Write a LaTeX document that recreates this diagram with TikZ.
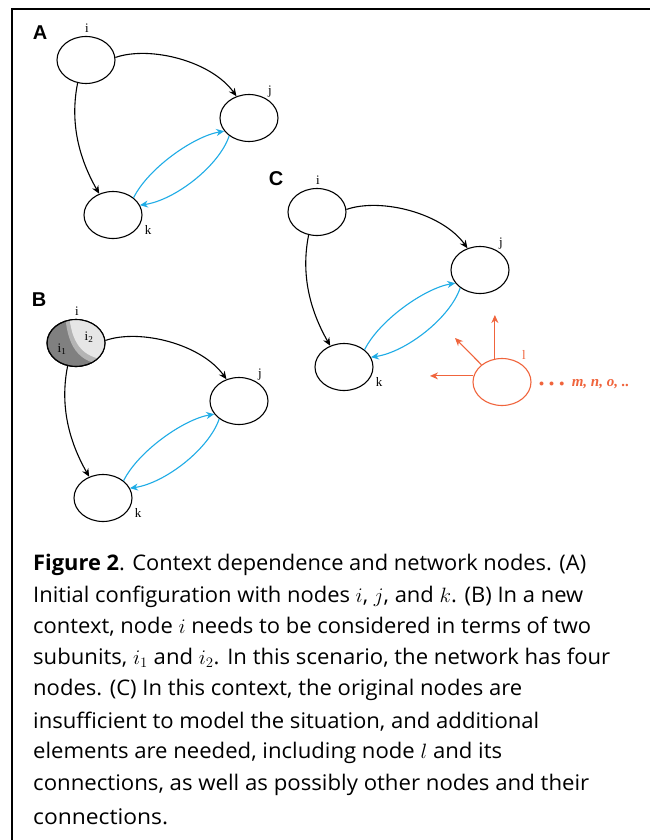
\documentclass[tikz,border=0pt]{standalone}
\usepackage{fontspec}
\setmainfont{Liberation Serif}
\newfontfamily\capfont{Open Sans}
\newfontfamily\labfont{Liberation Sans}
\usetikzlibrary{shapes.geometric,arrows.meta}
\definecolor{cblue}{RGB}{30,172,230}
\definecolor{corange}{RGB}{240,100,60}
\definecolor{dgray}{RGB}{128,128,128}
\definecolor{mgray}{RGB}{180,180,180}
\definecolor{lgray}{RGB}{230,230,230}
\tikzset{
  nd/.style={draw, ellipse, line width=1.1pt, minimum width=58pt, minimum height=47pt, inner sep=0pt},
  lab/.style={font=\fontsize{13}{13}\selectfont, inner sep=0pt},
  panel/.style={font=\labfont\bfseries\fontsize{20}{20}\selectfont, inner sep=0pt},
  blk/.style={line width=1.1pt, -{Stealth[length=8pt,width=7pt]}},
  blu/.style={line width=1.1pt, cblue, -{Stealth[length=8pt,width=7pt]}},
  org/.style={line width=1.1pt, corange, -{Stealth[length=8pt,width=7pt]}},
  capline/.style={anchor=west, inner sep=0pt, font=\capfont\fontsize{21.5}{21.5}\selectfont}
}
\newcommand\fitw[2]{\resizebox{#1pt}{\height}{#2}}
\newcommand\sdot{\scalebox{0.7}{$\bullet$}}
\newcommand\triad[2]{%
  \node[nd,#2] (#1i) at (86,60) {};
  \node[nd] (#1j) at (249,118) {};
  \node[nd] (#1k) at (113,215) {};
  \node[lab] (#1li) at (87,28) {i};
  \node[lab] (#1lj) at (270,92) {j};
  \node[lab] (#1lk) at (148,230) {k};
  \draw[blk] (#1i.5) .. controls +(35,-12) and +(-25,-35) .. (#1j.120);
  \draw[blk] (#1i.-110) .. controls +(-8,40) and +(-20,-35) .. (#1k.123);
  \draw[blu] (#1k.40) .. controls +(15,-30) and +(-30,5) .. (#1j.208);
  \draw[blu] (#1j.222) .. controls +(-10,30) and +(35,-5) .. (#1k.20);
}
\begin{document}
\begin{tikzpicture}[x=1pt,y=-1pt]
\useasboundingbox (0,0) rectangle (650,840);
\fill[white] (0,0) rectangle (650,840);
% frame
\draw[line width=1.6pt] (12,842) -- (12,9) -- (652,9);
% panel A
\node[panel] (pA) at (40,33) {A};
\begin{scope}
\triad{a}{}
\end{scope}
% panel B
\node[panel] (pB) at (39,300) {B};
\begin{scope}[shift={(-10,283)}]
\triad{b}{fill=dgray}
\begin{scope}
\clip (86,60) ellipse [x radius=28.5, y radius=23];
\fill[mgray] (75,30) .. controls (77,60) and (86,82) .. (120,82) -- (120,30) -- cycle;
\fill[lgray] (79,30) .. controls (81,57) and (90,76) .. (120,77) -- (120,30) -- cycle;
\end{scope}
\draw[line width=1.1pt] (86,60) ellipse [x radius=29, y radius=23.5];
\node[lab] (bi1) at (72,66) {i\textsubscript{1}};
\node[lab] (bi2) at (99,54) {i\textsubscript{2}};
\end{scope}
% panel C
\node[panel] (pC) at (276,179) {C};
\begin{scope}[shift={(231,152)}]
\triad{c}{}
\end{scope}
\node[nd, draw=corange] (cl) at (502,382) {};
\node[lab, text=corange] (cll) at (524,355) {l};
\coordinate (e1) at (495,315);
\coordinate (e2) at (455,338);
\coordinate (e3) at (430,376);
\draw[org] (cl.107) -- (cl.107 |- e1);
\draw[org] (cl.140) -- (e2);
\draw[org] (cl.168) -- (e3 |- cl.168);
\node[anchor=west, inner sep=0pt, text=corange, font=\bfseries\itshape\fontsize{15}{15}\selectfont] (more) at (539,384) {\sdot\,\,\sdot\,\,\sdot\ \ m, n, o, ..};
% caption
\node[capline] (c1) at (33,565) {\fitw{553}{\textbf{Figure 2}. Context dependence and network nodes. (A)}};
\node[capline] (c2) at (33,597) {\fitw{550}{Initial configuration with nodes $i$, $j$, and $k$. (B) In a new}};
\node[capline] (c3) at (33,627) {\fitw{558}{context, node $i$ needs to be considered in terms of two}};
\node[capline] (c4) at (33,658) {\fitw{577}{subunits, $i_1$ and $i_2$. In this scenario, the network has four}};
\node[capline] (c5) at (33,690) {\fitw{489}{nodes. (C) In this context, the original nodes are}};
\node[capline] (c6) at (33,722) {\fitw{506}{insufficient to model the situation, and additional}};
\node[capline] (c7) at (33,753) {\fitw{469}{elements are needed, including node $l$ and its}};
\node[capline] (c8) at (33,785) {\fitw{556}{connections, as well as possibly other nodes and their}};
\node[capline] (c9) at (33,817) {\fitw{135}{connections.}};
\end{tikzpicture}
\end{document}
